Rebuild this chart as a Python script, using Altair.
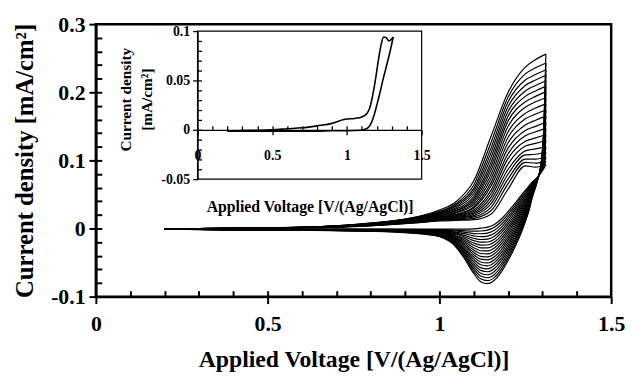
import altair as alt
import pandas as pd

FONT = "Liberation Serif"
W, H = 522, 276

# ---------------- data ----------------
V_FWD = [0.2, 0.3, 0.4, 0.5, 0.6, 0.7, 0.8, 0.9, 0.95, 1.0, 1.05, 1.1, 1.15, 1.2, 1.25, 1.28, 1.31]
V_REV = [0.2, 0.4, 0.6, 0.8, 0.9, 0.95, 1.0, 1.04, 1.07, 1.1, 1.12, 1.14, 1.16, 1.18, 1.2, 1.22,
         1.24, 1.25, 1.26, 1.27, 1.285, 1.297, 1.304, 1.31]

FWD_CURRENT = [
    [-0.001, -0.0005, 0.0, 0.0005, 0.001, 0.002, 0.004, 0.007, 0.009, 0.011, 0.012, 0.013, 0.021, 0.058, 0.092, 0.090, 0.094],
    [-0.001, -0.0005, 0.0, 0.0005, 0.0011, 0.0021, 0.0042, 0.0074, 0.0095, 0.012, 0.013, 0.015, 0.026, 0.066, 0.097, 0.096, 0.099],
    [-0.001, -0.0004, 0.0001, 0.0006, 0.0011, 0.0022, 0.0044, 0.0077, 0.0101, 0.013, 0.014, 0.017, 0.031, 0.073, 0.102, 0.102, 0.105],
    [-0.001, -0.0004, 0.0001, 0.0006, 0.0012, 0.0023, 0.0046, 0.0081, 0.0106, 0.013, 0.015, 0.019, 0.036, 0.080, 0.108, 0.109, 0.112],
    [-0.001, -0.0004, 0.0001, 0.0006, 0.0012, 0.0024, 0.0048, 0.0085, 0.0111, 0.014, 0.016, 0.021, 0.041, 0.087, 0.114, 0.117, 0.120],
    [-0.001, -0.0004, 0.0001, 0.0006, 0.0013, 0.0025, 0.0051, 0.0088, 0.0116, 0.015, 0.017, 0.023, 0.046, 0.095, 0.121, 0.125, 0.129],
    [-0.001, -0.0003, 0.0002, 0.0007, 0.0013, 0.0026, 0.0053, 0.0092, 0.0122, 0.015, 0.018, 0.025, 0.051, 0.103, 0.128, 0.133, 0.138],
    [-0.001, -0.0003, 0.0002, 0.0007, 0.0014, 0.0027, 0.0055, 0.0096, 0.0127, 0.016, 0.019, 0.027, 0.056, 0.110, 0.136, 0.142, 0.147],
    [-0.001, -0.0003, 0.0002, 0.0007, 0.0014, 0.0028, 0.0057, 0.0099, 0.0132, 0.017, 0.020, 0.030, 0.062, 0.118, 0.144, 0.150, 0.156],
    [-0.001, -0.0003, 0.0002, 0.0007, 0.0015, 0.0029, 0.0059, 0.0103, 0.0137, 0.017, 0.021, 0.032, 0.067, 0.126, 0.152, 0.159, 0.165],
    [-0.001, -0.0002, 0.0003, 0.0008, 0.0015, 0.0031, 0.0061, 0.0107, 0.0143, 0.018, 0.023, 0.035, 0.073, 0.134, 0.161, 0.168, 0.174],
    [-0.001, -0.0002, 0.0003, 0.0008, 0.0016, 0.0032, 0.0063, 0.0111, 0.0148, 0.019, 0.024, 0.038, 0.079, 0.142, 0.169, 0.177, 0.183],
    [-0.001, -0.0002, 0.0003, 0.0008, 0.0016, 0.0033, 0.0065, 0.0114, 0.0153, 0.020, 0.026, 0.041, 0.085, 0.150, 0.178, 0.186, 0.192],
    [-0.001, -0.0002, 0.0003, 0.0008, 0.0017, 0.0034, 0.0067, 0.0118, 0.0158, 0.021, 0.027, 0.044, 0.091, 0.158, 0.186, 0.194, 0.201],
    [-0.001, -0.0001, 0.0004, 0.0009, 0.0017, 0.0035, 0.0069, 0.0122, 0.0164, 0.022, 0.029, 0.047, 0.097, 0.165, 0.194, 0.202, 0.209],
    [-0.001, -0.0001, 0.0004, 0.0009, 0.0018, 0.0036, 0.0072, 0.0125, 0.0169, 0.022, 0.031, 0.051, 0.104, 0.172, 0.202, 0.210, 0.217],
    [-0.001, -0.0001, 0.0004, 0.0009, 0.0018, 0.0037, 0.0074, 0.0129, 0.0174, 0.023, 0.033, 0.055, 0.111, 0.179, 0.210, 0.218, 0.225],
    [-0.001, -0.0001, 0.0004, 0.0009, 0.0019, 0.0038, 0.0076, 0.0133, 0.0179, 0.024, 0.035, 0.059, 0.118, 0.186, 0.218, 0.226, 0.233],
    [-0.001, 0.0, 0.0005, 0.001, 0.0019, 0.0039, 0.0078, 0.0136, 0.0185, 0.025, 0.037, 0.064, 0.126, 0.193, 0.227, 0.236, 0.243],
    [-0.001, 0.0, 0.0005, 0.001, 0.002, 0.004, 0.008, 0.014, 0.019, 0.027, 0.040, 0.070, 0.135, 0.200, 0.237, 0.248, 0.256],
]

REV_CURRENT = [
    [-0.001, -0.001, -0.001, -0.001, -0.001, -0.001, -0.001, -0.001, -0.001, -0.0005, 0.0005, 0.002, 0.006, 0.014, 0.025, 0.037, 0.05, 0.056, 0.062, 0.068, 0.075, 0.083, 0.088, 0.094],
    [-0.001, -0.001, -0.0011, -0.0012, -0.0013, -0.0014, -0.0016, -0.0022, -0.0032, -0.0039, -0.0036, -0.0024, 0.0017, 0.0099, 0.0212, 0.0336, 0.0472, 0.0536, 0.0601, 0.0668, 0.0747, 0.0839, 0.0913, 0.099],
    [-0.001, -0.0011, -0.0012, -0.0013, -0.0015, -0.0017, -0.0022, -0.0033, -0.0053, -0.0074, -0.0077, -0.0067, -0.0026, 0.0058, 0.0174, 0.0303, 0.0443, 0.0512, 0.0581, 0.0656, 0.0745, 0.0848, 0.0945, 0.105],
    [-0.001, -0.0012, -0.0012, -0.0015, -0.0018, -0.0021, -0.0027, -0.0045, -0.0075, -0.0108, -0.0119, -0.0111, -0.0070, 0.0017, 0.0136, 0.0269, 0.0415, 0.0487, 0.0562, 0.0644, 0.0742, 0.0857, 0.0978, 0.112],
    [-0.001, -0.0012, -0.0013, -0.0016, -0.0021, -0.0025, -0.0033, -0.0056, -0.0097, -0.0143, -0.0161, -0.0155, -0.0113, -0.0025, 0.0098, 0.0235, 0.0386, 0.0463, 0.0542, 0.0632, 0.0739, 0.0866, 0.1011, 0.120],
    [-0.001, -0.0013, -0.0014, -0.0018, -0.0023, -0.0028, -0.0039, -0.0068, -0.0118, -0.0177, -0.0201, -0.0198, -0.0156, -0.0065, 0.0061, 0.0202, 0.0358, 0.0439, 0.0523, 0.0620, 0.0737, 0.0875, 0.1043, 0.129],
    [-0.001, -0.0013, -0.0015, -0.0019, -0.0026, -0.0032, -0.0045, -0.0080, -0.0140, -0.0212, -0.0243, -0.0242, -0.0199, -0.0107, 0.0023, 0.0168, 0.0329, 0.0415, 0.0503, 0.0607, 0.0734, 0.0884, 0.1076, 0.138],
    [-0.001, -0.0014, -0.0016, -0.0021, -0.0028, -0.0036, -0.0050, -0.0091, -0.0161, -0.0246, -0.0284, -0.0285, -0.0242, -0.0147, -0.0015, 0.0134, 0.0301, 0.0391, 0.0484, 0.0595, 0.0732, 0.0893, 0.1108, 0.147],
    [-0.001, -0.0014, -0.0016, -0.0023, -0.0031, -0.0039, -0.0056, -0.0103, -0.0183, -0.0281, -0.0326, -0.0329, -0.0285, -0.0188, -0.0053, 0.0101, 0.0273, 0.0366, 0.0464, 0.0583, 0.0729, 0.0902, 0.1141, 0.156],
    [-0.001, -0.0015, -0.0017, -0.0024, -0.0034, -0.0043, -0.0062, -0.0114, -0.0204, -0.0315, -0.0367, -0.0373, -0.0329, -0.0230, -0.0091, 0.0067, 0.0244, 0.0342, 0.0445, 0.0571, 0.0726, 0.0911, 0.1174, 0.165],
    [-0.001, -0.0015, -0.0018, -0.0026, -0.0036, -0.0047, -0.0068, -0.0126, -0.0226, -0.0350, -0.0408, -0.0417, -0.0371, -0.0270, -0.0129, 0.0033, 0.0216, 0.0318, 0.0425, 0.0559, 0.0724, 0.0919, 0.1206, 0.174],
    [-0.001, -0.0016, -0.0019, -0.0027, -0.0039, -0.0051, -0.0074, -0.0137, -0.0247, -0.0384, -0.0450, -0.0461, -0.0415, -0.0312, -0.0167, 0.0000, 0.0187, 0.0294, 0.0406, 0.0547, 0.0721, 0.0928, 0.1239, 0.183],
    [-0.001, -0.0016, -0.0019, -0.0029, -0.0042, -0.0054, -0.0080, -0.0149, -0.0269, -0.0419, -0.0491, -0.0505, -0.0458, -0.0353, -0.0205, -0.0035, 0.0159, 0.0269, 0.0386, 0.0535, 0.0718, 0.0937, 0.1272, 0.192],
    [-0.001, -0.0017, -0.0020, -0.0031, -0.0044, -0.0058, -0.0085, -0.0160, -0.0290, -0.0453, -0.0532, -0.0548, -0.0501, -0.0394, -0.0243, -0.0068, 0.0131, 0.0245, 0.0367, 0.0523, 0.0716, 0.0946, 0.1304, 0.201],
    [-0.001, -0.0017, -0.0021, -0.0032, -0.0047, -0.0062, -0.0091, -0.0172, -0.0312, -0.0488, -0.0574, -0.0592, -0.0544, -0.0435, -0.0281, -0.0102, 0.0102, 0.0221, 0.0347, 0.0511, 0.0713, 0.0955, 0.1337, 0.209],
    [-0.001, -0.0018, -0.0022, -0.0034, -0.0049, -0.0065, -0.0097, -0.0184, -0.0333, -0.0522, -0.0614, -0.0635, -0.0587, -0.0475, -0.0318, -0.0135, 0.0074, 0.0197, 0.0328, 0.0499, 0.0711, 0.0964, 0.1369, 0.217],
    [-0.001, -0.0018, -0.0023, -0.0035, -0.0052, -0.0069, -0.0103, -0.0195, -0.0355, -0.0557, -0.0656, -0.0679, -0.0630, -0.0517, -0.0356, -0.0169, 0.0045, 0.0173, 0.0308, 0.0486, 0.0708, 0.0973, 0.1402, 0.225],
    [-0.001, -0.0019, -0.0023, -0.0037, -0.0055, -0.0073, -0.0108, -0.0207, -0.0377, -0.0591, -0.0698, -0.0723, -0.0674, -0.0558, -0.0394, -0.0203, 0.0017, 0.0148, 0.0289, 0.0474, 0.0705, 0.0982, 0.1435, 0.233],
    [-0.001, -0.0019, -0.0024, -0.0038, -0.0057, -0.0076, -0.0114, -0.0218, -0.0398, -0.0625, -0.0738, -0.0766, -0.0717, -0.0599, -0.0432, -0.0236, -0.0011, 0.0124, 0.0270, 0.0462, 0.0703, 0.0991, 0.1467, 0.243],
    [-0.001, -0.002, -0.0025, -0.004, -0.006, -0.008, -0.012, -0.023, -0.042, -0.066, -0.078, -0.081, -0.076, -0.064, -0.047, -0.027, -0.004, 0.010, 0.025, 0.045, 0.070, 0.100, 0.150, 0.256],
]

INSET_V_FWD = [0.2, 0.3, 0.4, 0.5, 0.6, 0.7, 0.8, 0.9, 0.95, 0.98, 1.0, 1.05, 1.1, 1.13, 1.15, 1.17,
               1.19, 1.21, 1.23, 1.245, 1.265, 1.28, 1.31]
INSET_C_FWD = [-0.001, -0.0008, -0.0005, 0.0, 0.001, 0.002, 0.004, 0.0065, 0.009, 0.0105, 0.011, 0.0115,
               0.013, 0.016, 0.021, 0.033, 0.05, 0.07, 0.087, 0.094, 0.093, 0.090, 0.094]
INSET_V_REV = [0.2, 0.4, 0.6, 0.8, 0.9, 1.0, 1.1, 1.12, 1.14, 1.16, 1.18, 1.2, 1.22, 1.24, 1.26, 1.285, 1.31]
INSET_C_REV = [-0.0015, -0.0015, -0.0015, -0.0015, -0.001, -0.001, -0.0005, 0.0005, 0.002, 0.006, 0.014,
               0.025, 0.037, 0.05, 0.062, 0.077, 0.094]

MAIN_X_DOMAIN = [0, 1.5]
MAIN_Y_DOMAIN = [-0.1, 0.3]
MAIN_X_TICKS = [0, 0.5, 1, 1.5]
MAIN_Y_TICKS = [-0.1, 0, 0.1, 0.2, 0.3]
MAIN_X_MINOR = [0.1, 0.2, 0.3, 0.4, 0.5, 0.6, 0.7, 0.8, 0.9, 1.0, 1.1, 1.2, 1.3, 1.4]
MAIN_Y_MINOR = [-0.08, -0.06, -0.04, -0.02, 0, 0.02, 0.04, 0.06, 0.08, 0.1, 0.12, 0.14, 0.16, 0.18,
                0.2, 0.22, 0.24, 0.26, 0.28]

INSET_X_DOMAIN = [0, 1.5]
INSET_Y_DOMAIN = [-0.05, 0.1]
INSET_X_TICKS = [0, 0.5, 1, 1.5]
INSET_Y_TICKS = [-0.05, 0, 0.05, 0.1]
INSET_X_MINOR = [0.1, 0.2, 0.3, 0.4, 0.5, 0.6, 0.7, 0.8, 0.9, 1.0, 1.1, 1.2, 1.3, 1.4]
INSET_Y_MINOR = [-0.04, -0.03, -0.02, -0.01, 0, 0.01, 0.02, 0.03, 0.04, 0.05, 0.06, 0.07, 0.08, 0.09]

# inset placement inside the plot area (pixels)
IN_X0, IN_X1 = 103, 330
IN_Y_TOP, IN_Y_BOT = 7, 157
IN_ZERO = 107

# ---------------- tables ----------------
rows = []
for i, vals in enumerate(FWD_CURRENT):
    for v, c in zip(V_FWD, vals):
        rows.append({"v": v, "c": c, "s": f"f{i}"})
for i, vals in enumerate(REV_CURRENT):
    for v, c in zip(V_REV, vals):
        rows.append({"v": v, "c": c, "s": f"r{i}"})
main_df = pd.DataFrame(rows)

irows = []
for v, c in zip(INSET_V_FWD, INSET_C_FWD):
    irows.append({"v": v, "c": c, "s": "f"})
for v, c in zip(INSET_V_REV, INSET_C_REV):
    irows.append({"v": v, "c": c, "s": "r"})
inset_df = pd.DataFrame(irows)

dummy = pd.DataFrame({"v": [MAIN_X_DOMAIN[0]], "c": [0.0]})
frame_df = pd.DataFrame({"x0": [INSET_X_DOMAIN[0]], "x1": [INSET_X_DOMAIN[1]],
                         "y0": [INSET_Y_DOMAIN[0]], "y1": [INSET_Y_DOMAIN[1]]})

x_main = alt.Scale(domain=MAIN_X_DOMAIN, nice=False, zero=False)
y_main = alt.Scale(domain=MAIN_Y_DOMAIN, nice=False, zero=False)
x_in = alt.Scale(domain=INSET_X_DOMAIN, nice=False, zero=False, range=[IN_X0, IN_X1])
y_in = alt.Scale(domain=INSET_Y_DOMAIN, nice=False, zero=False, range=[IN_Y_BOT, IN_Y_TOP])

minus_fix = "replace(datum.label, '\u2212', '-')"

# ---------------- main chart ----------------
lines = alt.Chart(main_df).mark_line(color="black", strokeWidth=1.2, interpolate="monotone").encode(
    x=alt.X("v:Q", scale=x_main, axis=alt.Axis(
        orient="bottom", values=MAIN_X_TICKS, format="~g", tickSize=7, tickWidth=2, domainWidth=2.5,
        labelFontSize=22, labelPadding=20, labelBaseline="middle", labelFlush=False, labelOverlap=False,
        title="Applied Voltage [V/(Ag/AgCl)]", titleFontSize=24, titleY=64, titleBaseline="middle")),
    y=alt.Y("c:Q", scale=y_main, axis=alt.Axis(
        orient="left", values=MAIN_Y_TICKS, format="~g", labelExpr=minus_fix, tickSize=7, tickWidth=2,
        domainWidth=2.5, labelFontSize=22, labelPadding=4, labelOverlap=False,
        title="Current density [mA/cm\u00b2]", titleFontSize=25, titleX=-72, titleY=H / 2,
        titleBaseline="middle", titleAlign="center", titleAngle=-90)),
    detail="s:N",
)

main_ticks = alt.Chart(dummy).mark_point(opacity=0).encode(
    x=alt.X("v:Q", scale=x_main, axis=alt.Axis(
        orient="top", offset=-H, values=MAIN_X_MINOR, labels=False, domain=False,
        tickSize=6, tickWidth=2, title=None, zindex=1)),
    y=alt.Y("c:Q", scale=y_main, axis=alt.Axis(
        orient="right", offset=-W, values=MAIN_Y_MINOR, labels=False, domain=False,
        tickSize=6, tickWidth=2, title=None, zindex=1)),
)

# ---------------- inset ----------------
frame = alt.Chart(frame_df).mark_rect(fill="white", stroke="black", strokeWidth=1.2).encode(
    x=alt.X("x0:Q", scale=x_in, axis=None), x2="x1",
    y=alt.Y("y0:Q", scale=y_in, axis=None), y2="y1",
)

inset_line = alt.Chart(inset_df).mark_line(color="black", strokeWidth=1.6, interpolate="monotone").encode(
    x=alt.X("v:Q", scale=x_in, axis=alt.Axis(
        orient="bottom", offset=IN_ZERO - H, values=INSET_X_TICKS, format="~g", tickSize=5,
        tickWidth=1.3, domainWidth=1.3, labelFontSize=14, labelPadding=21, labelBaseline="middle",
        labelFlush=False, labelOverlap=False, zindex=1,
        title="Applied Voltage [V/(Ag/AgCl)]", titleFontSize=16, titleY=78, titleBaseline="middle")),
    y=alt.Y("c:Q", scale=y_in, axis=alt.Axis(
        orient="left", offset=-IN_X0, values=INSET_Y_TICKS, format="~g", labelExpr=minus_fix,
        tickSize=5, tickWidth=1.3, domainWidth=1.3, labelFontSize=14, labelPadding=3, labelOverlap=False,
        zindex=1,
        title=["Current density", "[mA/cm\u00b2]"], titleFontSize=15.5, titleX=-80, titleY=76,
        titleBaseline="top", titleAlign="center", titleAngle=-90, titleLineHeight=21)),
    detail="s:N",
)

inset_ticks = alt.Chart(dummy).mark_point(opacity=0).encode(
    x=alt.X("v:Q", scale=x_in, axis=alt.Axis(
        orient="top", offset=-IN_ZERO, values=INSET_X_MINOR, labels=False, domain=False,
        tickSize=4, tickWidth=1.3, title=None, zindex=1)),
    y=alt.Y("c:Q", scale=y_in, axis=alt.Axis(
        orient="right", offset=IN_X0 - W, values=INSET_Y_MINOR, labels=False, domain=False,
        tickSize=4, tickWidth=1.3, title=None, zindex=1)),
)

chart = alt.layer(lines, main_ticks, frame, inset_line, inset_ticks).resolve_scale(
    x="independent", y="independent"
).properties(
    width=W, height=H,
    autosize=alt.AutoSizeParams(type="none"),
    padding={"left": 89, "top": 14, "right": 15, "bottom": 76},
).configure_view(
    stroke="black", strokeWidth=2.5
).configure_axis(
    labelFont=FONT, titleFont=FONT, labelFontWeight="bold", titleFontWeight="bold",
    labelColor="black", titleColor="black", tickColor="black", domainColor="black", grid=False,
)

chart.save("out.html", embed_options={"renderer": "svg", "actions": False})
